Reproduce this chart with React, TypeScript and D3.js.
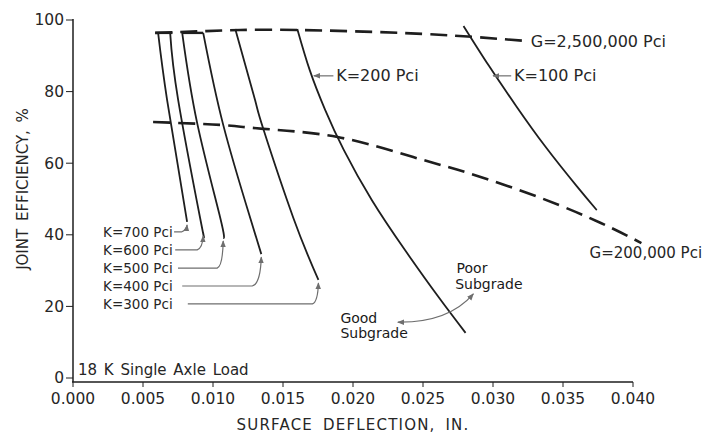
import React from 'react';
import * as d3 from 'd3';

// ---- data (surface deflection in inches, joint efficiency %) ----
const xTickValues = [0, 0.005, 0.01, 0.015, 0.02, 0.025, 0.03, 0.035, 0.04];
const yTickValues = [0, 20, 40, 60, 80, 100];

const gHigh: [number, number][] = [
  [0.00587, 96.4], [0.0095, 96.9], [0.01195, 97.2], [0.01624, 97.2], [0.02339, 96.4], [0.0285, 95.3], [0.03248, 94.1],
];
const gLow: [number, number][] = [
  [0.00572, 71.5], [0.0105, 70.7], [0.0136, 69.6], [0.0189, 67.3], [0.0243, 61.7], [0.0282, 57.3], [0.0334, 50.3], [0.0377, 43.3], [0.0406, 37.7],
];
const k700: [number, number][] = [[0.00608, 96.4], [0.00672, 77.7], [0.00815, 43.6]];
const k600: [number, number][] = [[0.00694, 96.4], [0.00751, 77.7], [0.00908, 44.7], [0.0093, 40.5]];
const k500: [number, number][] = [[0.0078, 96.4], [0.00887, 71.2], [0.01052, 44.7], [0.01073, 39.1]];
const k400: [number, number][] = [[0.0093, 96.4], [0.01073, 70.7], [0.01266, 44.7], [0.01345, 34.6]];
const k300: [number, number][] = [[0.01159, 97.5], [0.013, 77.7], [0.01359, 69.6], [0.01574, 44.7], [0.01753, 27.4]];
const k200: [number, number][] = [
  [0.01602, 97.5], [0.01691, 86.0], [0.01801, 74.9], [0.01934, 63.7], [0.02134, 49.7], [0.0237, 35.8], [0.02611, 22.6], [0.02804, 12.6],
];
const k100: [number, number][] = [
  [0.0279, 98.3], [0.02971, 87.2], [0.03165, 76.0], [0.03371, 64.8], [0.03598, 53.6], [0.03741, 46.9],
];

// top caps joining pairs of K curves
const capA: [number, number][] = [[0.00587, 96.4], [0.0071, 96.4]];
const capB: [number, number][] = [[0.0078, 96.4], [0.0093, 96.4]];

const leftKLabels = ['K=700 Pci', 'K=600 Pci', 'K=500 Pci', 'K=400 Pci', 'K=300 Pci'];
const leftKLabelY = [40.8, 35.8, 30.7, 25.7, 20.7];
const leftKLeaderStart = [0.00722, 0.0073, 0.0075, 0.0078, 0.0082];
const leftKElbowX = [0.00775, 0.00887, 0.0103, 0.0128, 0.0171];
const leftKCurves = [k700, k600, k500, k400, k300];

export default function App() {
  const W = 709, H = 433;
  const x = d3.scaleLinear().domain([0, 0.04]).range([73, 633]);
  const y = d3.scaleLinear().domain([0, 100]).range([378, 20]);
  const line = d3.line<[number, number]>().x(d => x(d[0])).y(d => y(d[1])).curve(d3.curveNatural);
  const straight = d3.line<[number, number]>().x(d => x(d[0])).y(d => y(d[1]));

  const ink = '#1e1e1e';
  const txt = '#262626';
  const gray = '#6e6e6e';
  const font = "'DejaVu Sans', sans-serif";
  const axisY = 382;

  const solid = [k700, k600, k500, k400, k300, k200, k100];

  return (
    <svg width={W} height={H} style={{ position: 'absolute', left: 0, top: 0, background: '#fff' }} fontFamily={font}>
      <defs>
        <marker id="arr" viewBox="0 0 10 10" refX="9" refY="5" markerWidth="7" markerHeight="7" orient="auto-start-reverse" markerUnits="userSpaceOnUse">
          <path d="M0,1 L10,5 L0,9 Z" fill={gray} />
        </marker>
      </defs>

      {/* axes */}
      <line x1={x(0)} x2={x(0)} y1={y(100) - 1} y2={axisY} stroke={ink} strokeWidth={1.5} />
      <line x1={x(0) - 1} x2={x(0.04)} y1={axisY} y2={axisY} stroke={ink} strokeWidth={1.5} />
      {yTickValues.map(v => (
        <g key={'yt' + v}>
          <line x1={x(0) - 7} x2={x(0)} y1={y(v)} y2={y(v)} stroke={ink} strokeWidth={1} />
          <text x={x(0) - 9} y={y(v)} dy="0.35em" textAnchor="end" fontSize={15.5} fill={txt}>{v}</text>
        </g>
      ))}
      {xTickValues.map(v => (
        <g key={'xt' + v}>
          <line x1={x(v)} x2={x(v)} y1={axisY} y2={axisY + 5} stroke={ink} strokeWidth={1} />
          <text x={x(v)} y={399} dy="0.35em" textAnchor="middle" fontSize={15.5} fill={txt}>{v.toFixed(3)}</text>
        </g>
      ))}
      <text x={353} y={425} dy="0.35em" textAnchor="middle" fontSize={15} letterSpacing={1.2} wordSpacing={4} fill={txt}>SURFACE DEFLECTION, IN.</text>
      <text transform="translate(23,189) rotate(-90)" dy="0.35em" textAnchor="middle" fontSize={15} wordSpacing={3} fill={txt}>JOINT EFFICIENCY, %</text>
      <text x={78} y={370} dy="0.35em" fontSize={15} wordSpacing={2} fill={txt}>18 K Single Axle Load</text>

      {/* dashed G curves */}
      <path d={line(gHigh) || ''} fill="none" stroke={ink} strokeWidth={2.6} strokeDasharray="17 8" />
      <path d={line(gLow) || ''} fill="none" stroke={ink} strokeWidth={2.6} strokeDasharray="17 8" />
      <path d={straight(capA) || ''} fill="none" stroke={ink} strokeWidth={2.4} />
      <path d={straight(capB) || ''} fill="none" stroke={ink} strokeWidth={2.4} />

      {/* solid K curves */}
      {solid.map((s, i) => (
        <path key={'k' + i} d={line(s) || ''} fill="none" stroke={ink} strokeWidth={1.8} />
      ))}

      {/* left K labels with leaders */}
      {leftKLabels.map((lab, i) => {
        const c = leftKCurves[i];
        const tip = c[c.length - 1];
        const ly = y(leftKLabelY[i]);
        const tx = x(tip[0]);
        const ty = y(tip[1]) + 3;
        const ex = x(leftKElbowX[i]);
        return (
          <g key={lab}>
            <text x={x(0.00215)} y={ly} dy="0.35em" fontSize={13.5} fill={txt}>{lab}</text>
            <path d={`M${x(leftKLeaderStart[i])},${ly} H${ex} Q${ex + (tx - ex) * 0.9},${ly - 2} ${tx},${ty}`} fill="none" stroke={gray} strokeWidth={1.2} markerEnd="url(#arr)" />
          </g>
        );
      })}

      {/* K=200 / K=100 labels */}
      <path d={`M${x(0.0186)},${y(84.4)} H${x(0.0172)}`} stroke={gray} strokeWidth={1.2} markerEnd="url(#arr)" />
      <text x={x(0.0188)} y={y(84.4)} dy="0.35em" fontSize={16} fill={txt}>K=200 Pci</text>
      <path d={`M${x(0.0313)},${y(84.4)} H${x(0.0300)}`} stroke={gray} strokeWidth={1.2} markerEnd="url(#arr)" />
      <text x={x(0.0315)} y={y(84.4)} dy="0.35em" fontSize={16} fill={txt}>K=100 Pci</text>

      {/* G labels */}
      <text x={x(0.0327)} y={y(93.9)} dy="0.35em" fontSize={16} fill={txt}>G=2,500,000 Pci</text>
      <text x={x(0.0369)} y={y(35.1)} dy="0.35em" fontSize={15} fill={txt}>G=200,000 Pci</text>

      {/* subgrade annotations */}
      <text x={x(0.01910)} y={y(16.8)} dy="0.35em" fontSize={14} fill="#1a1a1a">Good</text>
      <text x={x(0.01910)} y={y(12.6)} dy="0.35em" fontSize={14} fill="#1a1a1a">Subgrade</text>
      <text x={x(0.0274)} y={y(30.7)} dy="0.35em" fontSize={14} fill="#1a1a1a">Poor</text>
      <text x={x(0.0273)} y={y(26.1)} dy="0.35em" fontSize={14} fill="#1a1a1a">Subgrade</text>
      <path d={`M${x(0.0232)},${y(15.6)} Q${x(0.0268)},${y(15.4)} ${x(0.0286)},${y(23.5)}`} fill="none" stroke={gray} strokeWidth={1.2} markerStart="url(#arr)" markerEnd="url(#arr)" />
    </svg>
  );
}
